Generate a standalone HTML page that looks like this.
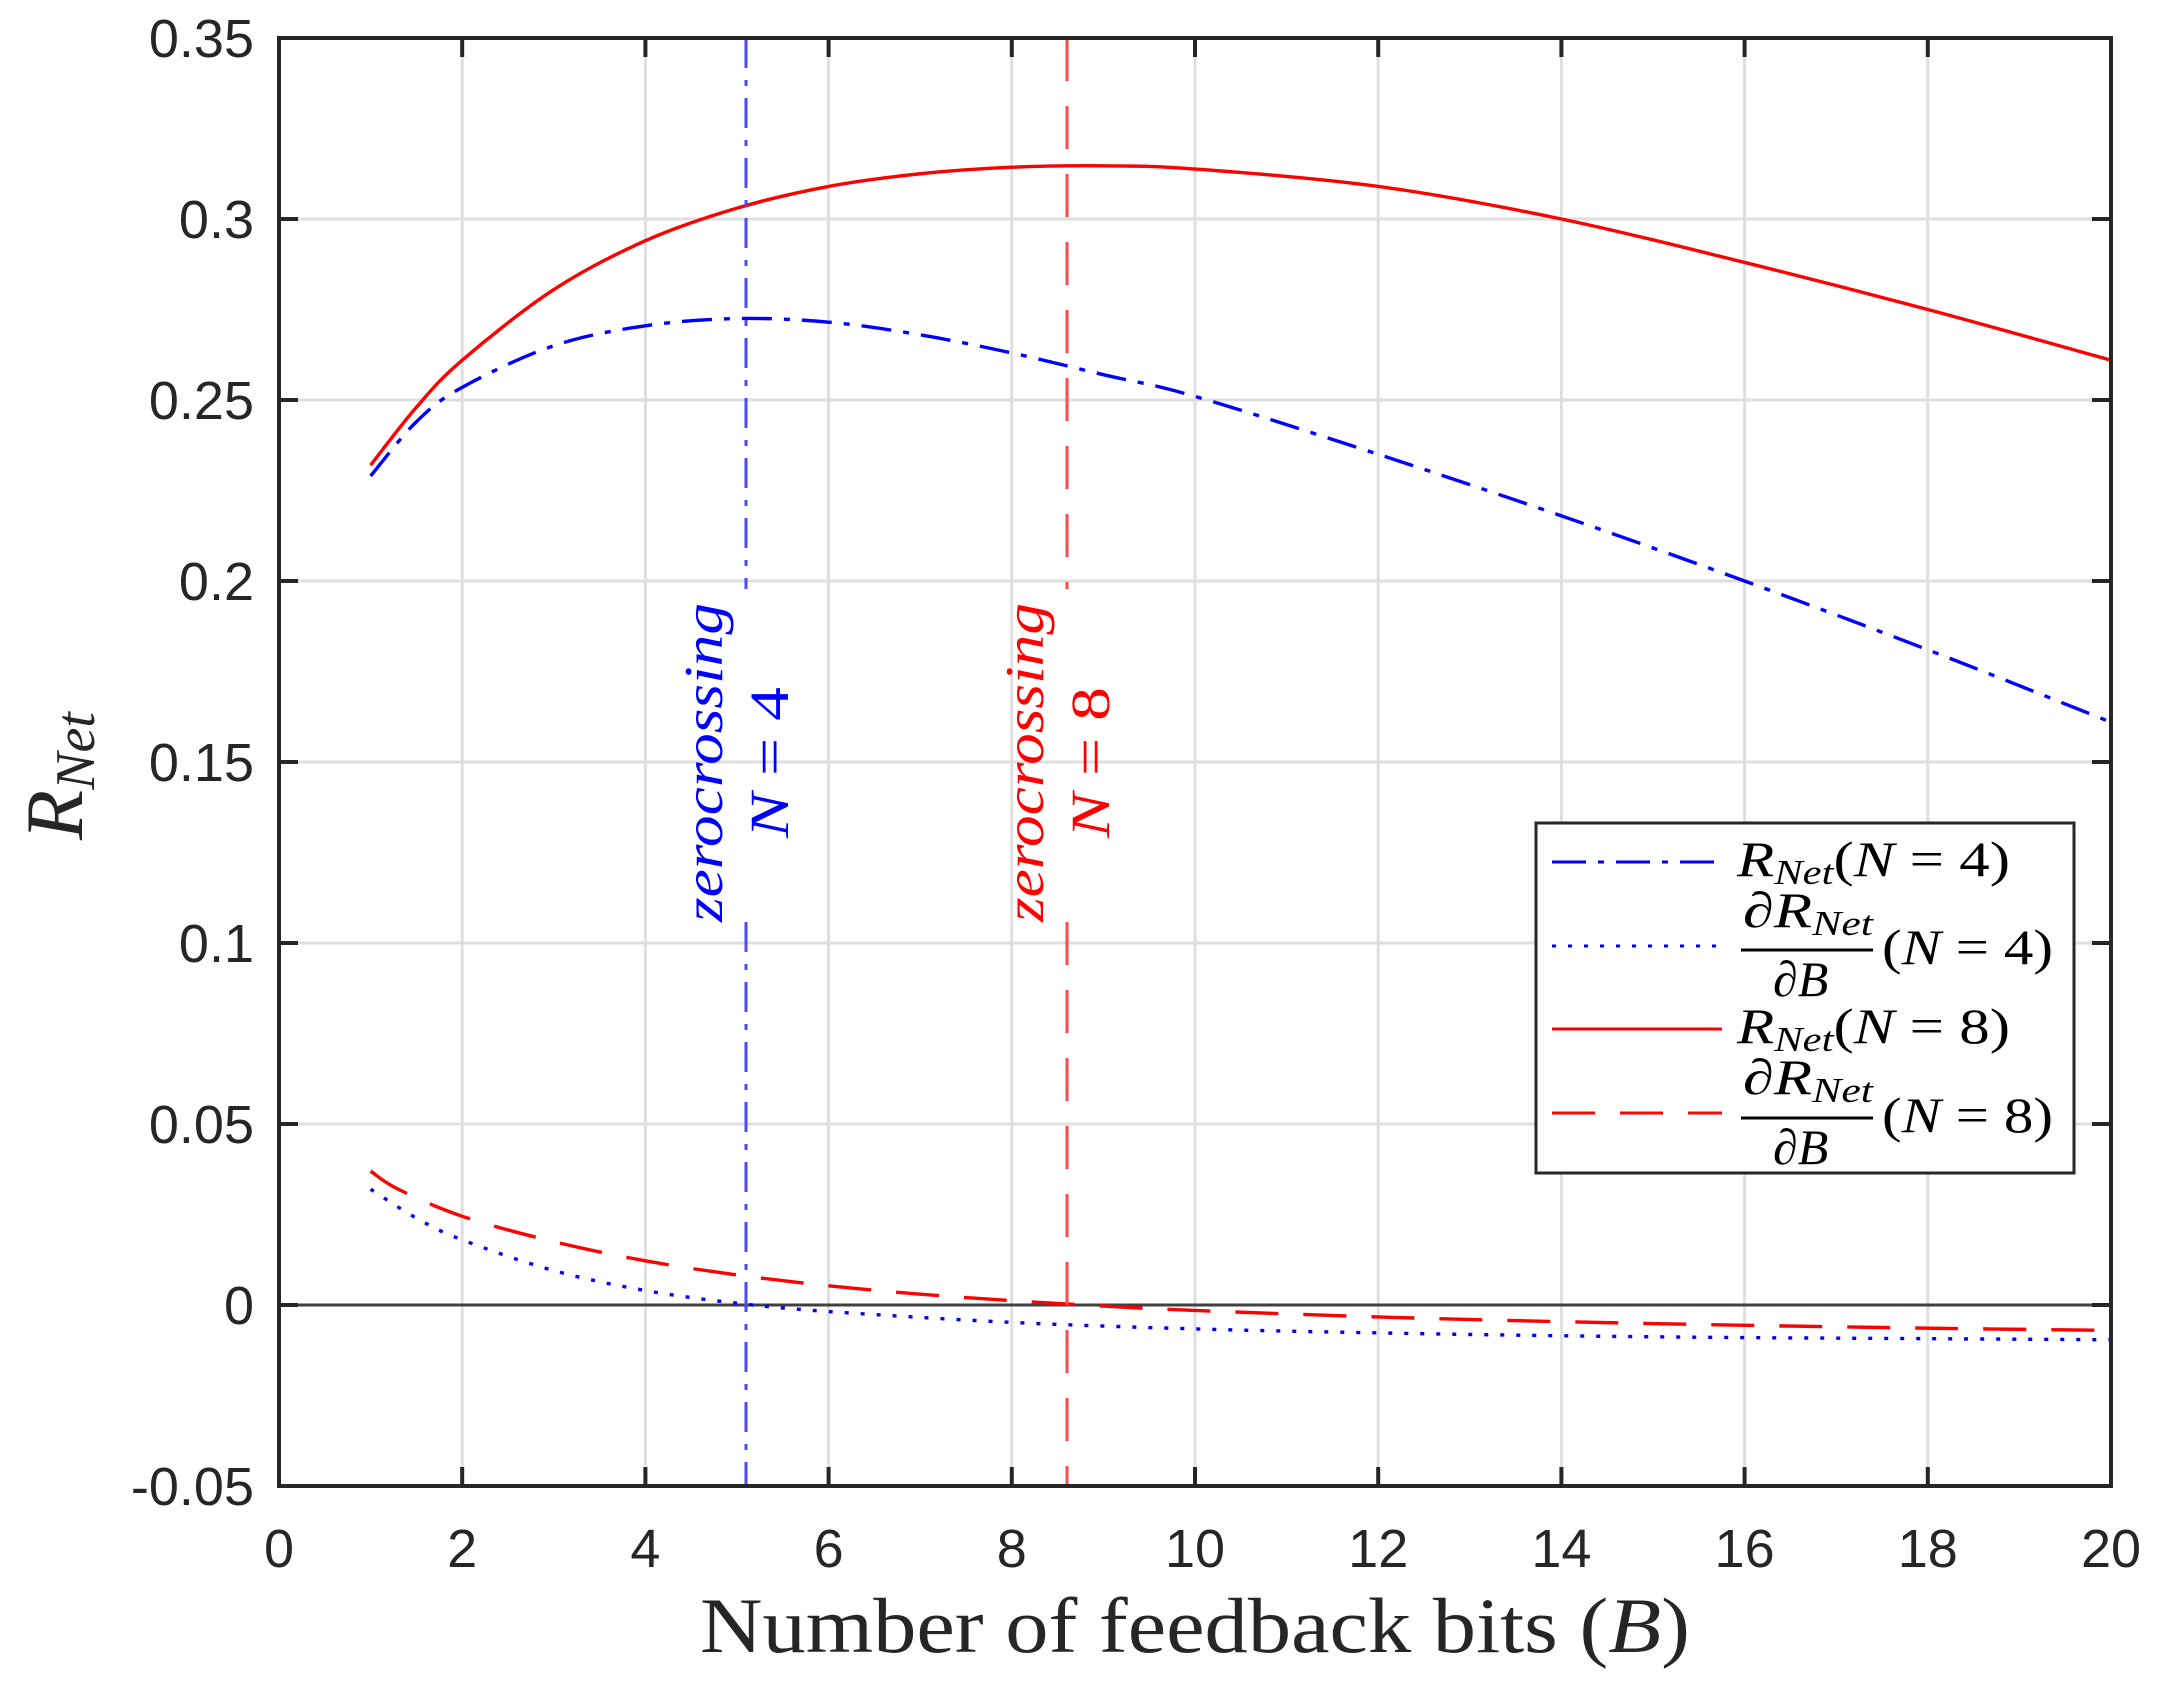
<!DOCTYPE html>
<html><head><meta charset="utf-8"><style>
html,body{margin:0;padding:0;background:#fff}
svg{display:block}
</style></head><body>
<svg id="s" width="2163" height="1697" xmlns="http://www.w3.org/2000/svg">
<rect width="2163" height="1697" fill="#fff"/>
<g id="grid" stroke="#dfdfdf" stroke-width="3"></g>
<line x1="279" y1="1305" x2="2111" y2="1305" stroke="#404040" stroke-width="3"/>
<g id="curves" fill="none" stroke-width="3.4"></g>
<g stroke-width="3">
<line x1="746" y1="38" x2="746" y2="589" stroke="#4a4aff" stroke-dasharray="30,12,6,12"/>
<line x1="746" y1="922" x2="746" y2="1486" stroke="#4a4aff" stroke-dasharray="30,12,6,12"/>
<line x1="1067" y1="38" x2="1067" y2="589" stroke="#ff4a4a" stroke-dasharray="43,25"/>
<line x1="1067" y1="922" x2="1067" y2="1486" stroke="#ff4a4a" stroke-dasharray="43,25"/>
</g>
<g id="axes" stroke="#262626" stroke-width="4" fill="none">
<rect x="279" y="38" width="1832" height="1448"/>
</g>
<g id="labels" font-family="Liberation Sans, sans-serif" font-size="54" fill="#262626"></g>
<g font-family="Liberation Serif, serif" font-style="italic">
<text transform="translate(722,922) rotate(-90)" font-size="55" fill="#0000ff" textLength="319" lengthAdjust="spacingAndGlyphs">zerocrossing</text>
<text transform="translate(788,838) rotate(-90)" font-size="55" fill="#0000ff" textLength="151" lengthAdjust="spacingAndGlyphs">N <tspan font-style="normal">= 4</tspan></text>
<text transform="translate(1043,922) rotate(-90)" font-size="55" fill="#ff0000" textLength="319" lengthAdjust="spacingAndGlyphs">zerocrossing</text>
<text transform="translate(1109,838) rotate(-90)" font-size="55" fill="#ff0000" textLength="151" lengthAdjust="spacingAndGlyphs">N <tspan font-style="normal">= 8</tspan></text>
<text transform="translate(82,840) rotate(-90)" font-size="82" fill="#262626">R<tspan font-size="56" dy="12">Net</tspan></text>
</g>
<text x="700" y="1652" font-family="Liberation Serif, serif" font-size="78" fill="#262626" textLength="990" lengthAdjust="spacingAndGlyphs">Number of feedback bits (<tspan font-style="italic">B</tspan>)</text>
<!-- legend -->
<rect x="1536" y="823" width="538" height="350" fill="#fff" stroke="#262626" stroke-width="3"/>
<g stroke-width="3">
<line x1="1552" y1="862" x2="1722" y2="862" stroke="#0000ff" stroke-dasharray="34,12,6,12"/>
<line x1="1552" y1="946" x2="1722" y2="946" stroke="#0000ff" stroke-dasharray="4,12"/>
<line x1="1552" y1="1029" x2="1722" y2="1029" stroke="#ff0000"/>
<line x1="1552" y1="1113" x2="1722" y2="1113" stroke="#ff0000" stroke-dasharray="43,25"/>
</g>
<g font-family="Liberation Serif, serif" font-size="50" fill="#000">
<text x="1737" y="876" textLength="273" lengthAdjust="spacingAndGlyphs"><tspan font-style="italic">R</tspan><tspan font-style="italic" font-size="35" dy="8">Net</tspan><tspan dy="-8">(<tspan font-style="italic">N</tspan> = 4)</tspan></text>
<text x="1743" y="927" textLength="130" lengthAdjust="spacingAndGlyphs"><tspan>∂</tspan><tspan font-style="italic">R</tspan><tspan font-style="italic" font-size="35" dy="8">Net</tspan></text>
<line x1="1741" y1="950" x2="1873" y2="950" stroke="#000" stroke-width="3"/>
<text x="1773" y="996">∂<tspan font-style="italic">B</tspan></text>
<text x="1882" y="964" textLength="171" lengthAdjust="spacingAndGlyphs">(<tspan font-style="italic">N</tspan> = 4)</text>
<text x="1737" y="1043" textLength="273" lengthAdjust="spacingAndGlyphs"><tspan font-style="italic">R</tspan><tspan font-style="italic" font-size="35" dy="8">Net</tspan><tspan dy="-8">(<tspan font-style="italic">N</tspan> = 8)</tspan></text>
<text x="1743" y="1094" textLength="130" lengthAdjust="spacingAndGlyphs"><tspan>∂</tspan><tspan font-style="italic">R</tspan><tspan font-style="italic" font-size="35" dy="8">Net</tspan></text>
<line x1="1741" y1="1118" x2="1873" y2="1118" stroke="#000" stroke-width="3"/>
<text x="1773" y="1164">∂<tspan font-style="italic">B</tspan></text>
<text x="1882" y="1132" textLength="171" lengthAdjust="spacingAndGlyphs">(<tspan font-style="italic">N</tspan> = 8)</text>
</g>
</svg>
<script>
const NS="http://www.w3.org/2000/svg";
const X=b=>279+91.6*b, Y=v=>38+(0.35-v)*3620;
function el(p,t,a,txt){const e=document.createElementNS(NS,t);for(const k in a)e.setAttribute(k,a[k]);if(txt!==undefined)e.textContent=txt;p.appendChild(e);return e;}
const grid=document.getElementById('grid'),axes=document.getElementById('axes'),lab=document.getElementById('labels');
for(let b=2;b<20;b+=2){el(grid,'line',{x1:X(b),y1:38,x2:X(b),y2:1486});}
for(let i=1;i<8;i++){const y=38+i*181;el(grid,'line',{x1:279,y1:y,x2:2111,y2:y});}
for(let b=0;b<=20;b+=2){const x=X(b);el(axes,'line',{x1:x,y1:1486,x2:x,y2:1467});el(axes,'line',{x1:x,y1:38,x2:x,y2:57});
 el(lab,'text',{x:x,y:1567,'text-anchor':'middle'},String(b));}
const yl=['0.35','0.3','0.25','0.2','0.15','0.1','0.05','0','-0.05'];
for(let i=0;i<9;i++){const y=38+i*181;el(axes,'line',{x1:279,y1:y,x2:298,y2:y});el(axes,'line',{x1:2111,y1:y,x2:2092,y2:y});
 el(lab,'text',{x:254,y:y+19,'text-anchor':'end'},yl[i]);}
function path(pts){const P=pts.map(p=>[X(p[0]),Y(p[1])]);let d='M'+P[0][0]+','+P[0][1];
 for(let i=0;i<P.length-1;i++){const p0=P[Math.max(0,i-1)],p1=P[i],p2=P[i+1],p3=P[Math.min(P.length-1,i+2)];
 const c1=[p1[0]+(p2[0]-p0[0])/6,p1[1]+(p2[1]-p0[1])/6],c2=[p2[0]-(p3[0]-p1[0])/6,p2[1]-(p3[1]-p1[1])/6];
 d+=` C${c1[0]},${c1[1]} ${c2[0]},${c2[1]} ${p2[0]},${p2[1]}`;}return d;}
const cv=document.getElementById('curves');
const R8=[[1,0.232],[1.5,0.248],[2,0.261],[3,0.2805],[4,0.294],[5,0.3030],[6,0.309],[7,0.3125],[8,0.3143],[9,0.3147],[10,0.3138],[12,0.309],[14,0.3],[16,0.288],[18,0.275],[20,0.261]];
const R4=[[1,0.229],[1.5,0.244],[2,0.2535],[3,0.265],[4,0.2705],[5,0.2725],[6,0.2715],[7,0.268],[8,0.263],[9,0.257],[10,0.251],[12,0.235],[14,0.218],[16,0.2],[18,0.181],[20,0.161]];
const D4=[[1,0.032],[1.5,0.024],[2,0.018],[3,0.0095],[4,0.004],[5,0.0005],[6,-0.0018],[8,-0.0048],[10,-0.0066],[12,-0.0077],[14,-0.0085],[16,-0.009],[18,-0.0093],[20,-0.0096]];
const D8=[[1,0.037],[1.3,0.032],[2,0.0245],[3,0.0175],[4,0.0122],[5,0.0083],[6,0.0053],[7,0.003],[8,0.0012],[9,-0.0003],[10,-0.0015],[12,-0.0033],[14,-0.0046],[16,-0.0056],[18,-0.0064],[20,-0.007]];
el(cv,'path',{d:path(R8),stroke:'#ff0000'});
el(cv,'path',{d:path(R4),stroke:'#0000ff','stroke-dasharray':'30,12,6,12'});
el(cv,'path',{d:path(D4),stroke:'#0000ff','stroke-dasharray':'4,12'});
el(cv,'path',{d:path(D8),stroke:'#ff0000','stroke-dasharray':'43,25'});
</script>
</body></html>
